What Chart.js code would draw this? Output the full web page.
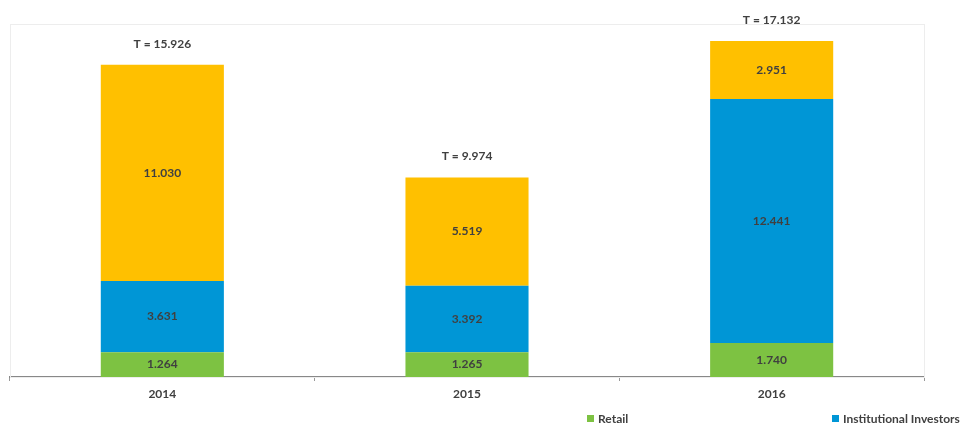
<!DOCTYPE html>
<html>
<head>
<meta charset="utf-8">
<script src="https://cdn.jsdelivr.net/npm/chart.js@4/dist/chart.umd.min.js"></script>
<style>
html,body{margin:0;padding:0;background:#fff;}
#wrap{width:965px;height:427px;position:relative;}
</style>
</head>
<body>
<div id="wrap"><canvas id="c" width="965" height="427"></canvas></div>
<script>
const categories = ['2014', '2015', '2016'];
const retail = [1.264, 1.265, 1.740];
const institutional = [3.631, 3.392, 12.441];
const other = [11.030, 5.519, 2.951];
const totals = ['15.926', '9.974', '17.132'];
const legendNames = ['Retail', 'Institutional Investors'];

const FONT = 'Lato, "Open Sans", sans-serif';
const TEXT = '#404040';

const labelsPlugin = {
  id: 'labelsPlugin',
  beforeDatasetsDraw(chart) {
    const {ctx, chartArea: a} = chart;
    ctx.save();
    ctx.strokeStyle = '#ededed';
    ctx.lineWidth = 1;
    ctx.strokeRect(a.left + 0.5, a.top + 0.5, a.right - a.left, a.bottom - a.top);
    ctx.restore();
  },
  afterDatasetsDraw(chart) {
    const {ctx} = chart;
    ctx.save();
    ctx.font = 'bold 12px ' + FONT;
    ctx.fillStyle = TEXT;
    ctx.textAlign = 'center';
    ctx.textBaseline = 'middle';
    chart.data.datasets.forEach((ds, di) => {
      const meta = chart.getDatasetMeta(di);
      meta.data.forEach((bar, i) => {
        const y = (bar.y + bar.base) / 2;
        ctx.fillText(ds.data[i].toFixed(3), bar.x, y);
      });
    });
    const top = chart.getDatasetMeta(chart.data.datasets.length - 1);
    top.data.forEach((bar, i) => {
      ctx.fillText('T = ' + totals[i], bar.x, bar.y - 21);
    });
    // legend
    ctx.font = 'bold 12px ' + FONT;
    ctx.textAlign = 'left';
    const lx = [587, 832];
    const cols = [chart.data.datasets[0].backgroundColor, chart.data.datasets[1].backgroundColor];
    legendNames.forEach((n, i) => {
      ctx.fillStyle = cols[i];
      ctx.fillRect(lx[i], 415, 7, 7);
      ctx.fillStyle = TEXT;
      ctx.fillText(n, lx[i] + 11, 419);
    });
    ctx.restore();
  }
};

new Chart(document.getElementById('c'), {
  type: 'bar',
  data: {
    labels: categories,
    datasets: [
      {label: 'Retail', data: retail, backgroundColor: '#7DC242'},
      {label: 'Institutional Investors', data: institutional, backgroundColor: '#0096D6'},
      {label: 'Other', data: other, backgroundColor: '#FFC000'}
    ]
  },
  options: {
    responsive: false,
    animation: false,
    devicePixelRatio: 1,
    layout: {padding: {left: 10, right: 41, top: 24, bottom: 0}},
    datasets: {bar: {categoryPercentage: 1, barPercentage: 0.404, borderWidth: 0}},
    plugins: {legend: {display: false}, tooltip: {enabled: false}},
    scales: {
      x: {
        stacked: true,
        grid: {display: true, drawOnChartArea: false, offset: true, tickLength: 4, color: '#999'},
        border: {display: true, color: '#888', width: 2},
        ticks: {font: {family: FONT, size: 12, weight: 'bold'}, color: TEXT, padding: 6},
        afterFit(scale) { scale.height = 50; }
      },
      y: {stacked: true, display: false, min: 0, max: 18}
    }
  },
  plugins: [labelsPlugin]
});
</script>
</body>
</html>
